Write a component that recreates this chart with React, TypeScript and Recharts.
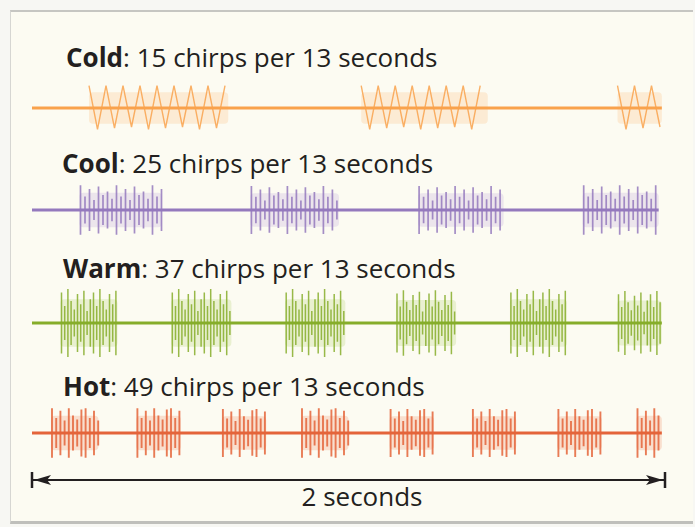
import React from "react";
import { ComposedChart, XAxis, YAxis, Line, ReferenceArea } from "recharts";

// time axis: the whole strip is a 2 second window
// each burst = one chirp: start / end in seconds, amp = half height (axis runs -1..1)
const coldBursts = [
  { start: 0.18, end: 0.62, amp: 0.56 },
  { start: 1.04, end: 1.44, amp: 0.56 },
  { start: 1.85, end: 1.99, amp: 0.56 },
];
const coolBursts = [
  { start: 0.15, end: 0.41, amp: 0.62 },
  { start: 0.69, end: 0.97, amp: 0.6 },
  { start: 1.22, end: 1.49, amp: 0.6 },
  { start: 1.74, end: 1.98, amp: 0.62 },
];
const warmBursts = [
  { start: 0.09, end: 0.27, amp: 0.85 },
  { start: 0.44, end: 0.63, amp: 0.85 },
  { start: 0.8, end: 0.99, amp: 0.85 },
  { start: 1.15, end: 1.34, amp: 0.82 },
  { start: 1.51, end: 1.69, amp: 0.85 },
  { start: 1.85, end: 1.99, amp: 0.8 },
];
const hotBursts = [
  { start: 0.06, end: 0.21, amp: 0.62 },
  { start: 0.33, end: 0.47, amp: 0.62 },
  { start: 0.6, end: 0.74, amp: 0.6 },
  { start: 0.85, end: 1.0, amp: 0.62 },
  { start: 1.13, end: 1.27, amp: 0.6 },
  { start: 1.39, end: 1.53, amp: 0.6 },
  { start: 1.66, end: 1.8, amp: 0.6 },
  { start: 1.91, end: 1.99, amp: 0.62 },
];

const rowNames = ["Cold", "Cool", "Warm", "Hot"];
const chirpCounts = [15, 25, 37, 49];
const windowSeconds = 13;
const lineEnds = [1.99, 1.98, 1.99, 1.99];
const spanLabel = "2 seconds";

// looks
const C = 40; // half height of each strip chart
const rowStyle = [
  { center: 108, labelY: 67, labelX: 66, color: "#f9a24c", haze: "#fcc88e", kind: "zigzag", step: 17, sw: 1.4, heights: [1, 0.95, 1, 0.9, 1, 0.85] },
  { center: 210, labelY: 173, labelX: 62, color: "#9479bd", haze: "#c6b3df", kind: "spikes", step: 4.5, sw: 1.7, heights: [1, 0.55, 0.85, 0.4, 0.95, 0.6, 0.75, 0.45] },
  { center: 323, labelY: 278, labelX: 63, color: "#86ad2a", haze: "#bcd782", kind: "spikes", step: 3.2, sw: 1.5, heights: [0.9, 0.5, 1, 0.65, 0.4, 0.85, 0.55, 0.95, 0.35, 0.7] },
  { center: 433, labelY: 396, labelX: 63, color: "#e4643a", haze: "#f2a07a", kind: "spikes", step: 4.2, sw: 1.9, heights: [1, 0.6, 0.9, 0.5, 1, 0.7, 0.55, 0.95] },
];
const allBursts = [coldBursts, coolBursts, warmBursts, hotBursts];

const INK = "#231f20";
const FONT = "'Open Sans', 'Noto Sans', sans-serif";
const FS = 26;
const margin = { top: 0, right: 30, bottom: 0, left: 32 };

function burstShape(st: any) {
  return (p: any) => {
    const { x, y, width, height } = p;
    if (x == null || width == null) return <g />;
    const cy = y + height / 2;
    const half = height / 2;
    let d = "";
    if (st.kind === "zigzag") {
      let i = 0;
      for (let px = x; px <= x + width + 0.1; px += st.step / 2, i++) {
        const h = half * st.heights[i % st.heights.length];
        d += `${i === 0 ? "M" : "L"}${px.toFixed(1)},${(i % 2 === 0 ? cy - h : cy + h).toFixed(1)}`;
      }
    } else {
      let i = 0;
      for (let px = x + 1; px < x + width; px += st.step, i++) {
        const h = half * st.heights[i % st.heights.length];
        d += `M${px.toFixed(1)},${(cy - h).toFixed(1)}V${(cy + h).toFixed(1)}`;
      }
    }
    return (
      <g>
        <rect x={x} y={cy - half * 0.7} width={width} height={half * 1.4} rx={4} fill={st.haze} fillOpacity={0.3} />
        <path d={d} fill="none" stroke={st.color} strokeWidth={st.sw} strokeOpacity={0.85} />
      </g>
    );
  };
}

function Strip({ idx }: { idx: number }) {
  const st = rowStyle[idx];
  const data = [
    { t: 0, v: 0 },
    { t: lineEnds[idx], v: 0 },
  ];
  return (
    <div style={{ position: "absolute", left: 0, top: st.center - C }}>
      <ComposedChart width={695} height={2 * C} data={data} margin={margin}>
        <XAxis hide type="number" dataKey="t" domain={[0, 2]} />
        <YAxis hide type="number" domain={[-1, 1]} />
        {allBursts[idx].map((b, i) => (
          <ReferenceArea
            key={i}
            x1={b.start}
            x2={b.end}
            y1={-b.amp}
            y2={b.amp}
            ifOverflow="visible"
            shape={burstShape(st)}
          />
        ))}
        <Line
          dataKey="v"
          stroke={st.color}
          strokeWidth={3}
          dot={false}
          isAnimationActive={false}
        />
      </ComposedChart>
    </div>
  );
}

function spanEnd(p: any) {
  const { cx, cy, index } = p;
  const dir = index === 0 ? 1 : -1;
  const tip = cx + dir * 2;
  return (
    <g key={`end-${index}`}>
      <line x1={cx} x2={cx} y1={cy - 8} y2={cy + 8} stroke={INK} strokeWidth={2.5} />
      <path
        d={`M${tip},${cy} L${tip + dir * 17},${cy - 5} L${tip + dir * 13},${cy} L${tip + dir * 17},${cy + 5} Z`}
        fill={INK}
      />
    </g>
  );
}

export default function App() {
  const span = [
    { t: 0, v: 0 },
    { t: 2, v: 0 },
  ];
  return (
    <div style={{ position: "absolute", left: 0, top: 0, width: 695, height: 527, background: "#f7f7f3", overflow: "hidden" }}>
      <div
        style={{
          position: "absolute",
          left: 10,
          top: 10,
          width: 682,
          height: 509,
          background: "#fcfbf2",
          borderTop: "2px solid #c6c6c2",
          borderLeft: "1px solid #d6d6d2",
          borderBottom: "3px solid #bfbfbb",
        }}
      />
      {rowNames.map((_, i) => (
        <Strip key={i} idx={i} />
      ))}
      <div style={{ position: "absolute", left: 0, top: 450 }}>
        <ComposedChart width={695} height={60} data={span} margin={margin}>
          <XAxis hide type="number" dataKey="t" domain={[0, 2]} />
          <YAxis hide type="number" domain={[-1, 1]} />
          <Line dataKey="v" stroke={INK} strokeWidth={2} dot={spanEnd} isAnimationActive={false} />
        </ComposedChart>
      </div>
      <svg width={695} height={527} style={{ position: "absolute", left: 0, top: 0, pointerEvents: "none" }}>
        {rowNames.map((name, i) => (
          <text key={name} x={rowStyle[i].labelX} y={rowStyle[i].labelY} fontFamily={FONT} fontSize={FS} fill={INK}>
            <tspan fontWeight={700}>{name}</tspan>
            <tspan>{`: ${chirpCounts[i]} chirps per ${windowSeconds} seconds`}</tspan>
          </text>
        ))}
        <text x={362} y={506} textAnchor="middle" fontFamily={FONT} fontSize={FS} fill={INK}>
          {spanLabel}
        </text>
      </svg>
    </div>
  );
}
